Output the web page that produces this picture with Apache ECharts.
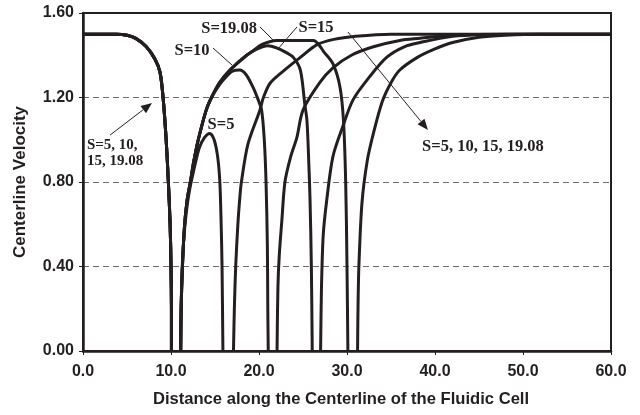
<!DOCTYPE html>
<html>
<head>
<meta charset="utf-8">
<script src="https://cdn.jsdelivr.net/npm/echarts@6/dist/echarts.min.js"></script>
<style>
html,body{margin:0;padding:0;background:#fff;}
#chart{width:640px;height:415px;}
</style>
</head>
<body>
<div id="chart"></div>
<script>
// ---- data (x = distance, y = centerline velocity) ----
var xTicks = ['0.0','10.0','20.0','30.0','40.0','50.0','60.0'];
var yTicks = ['0.00','0.40','0.80','1.20','1.60'];

// inlet part shared by all four S values
var inlet = [[0,1.50],[3.8,1.50],[5,1.495],[6,1.48],[7.2,1.44],[8.2,1.38],[8.75,1.32],[9.1,1.20],
  [9.45,1.00],[9.7,0.80],[9.9,0.60],[10.0,0.40],[10.05,0.20],[10.05,0]];

var s5First = [[11.1,0],[11.2,0.3],[11.4,0.5],[11.75,0.66],[12.1,0.76],[12.5,0.84],[13.2,0.96],
  [13.8,1.01],[14.4,1.03],[14.9,1.00],[15.3,0.92],[15.55,0.80],[15.7,0.60],[15.8,0.40],[15.9,0]];
var s5Second = [[17.1,0],[17.2,0.2],[17.35,0.4],[17.6,0.6],[17.8,0.715],[18.0,0.80],[18.75,0.98],
  [20.1,1.14],[20.5,1.20],[21.3,1.27],[23.2,1.34],[24.7,1.39],[26.6,1.45],[28.5,1.475],[31,1.49],[35,1.50],[60,1.50]];

var s10First = [[11.1,0],[11.15,0.2],[11.3,0.4],[11.55,0.6],[11.85,0.72],[12.2,0.80],[12.6,0.90],
  [13.1,1.00],[14.0,1.14],[14.6,1.20],[15.5,1.26],[16.3,1.30],[17.0,1.325],[17.8,1.33],[18.5,1.31],
  [19.3,1.25],[19.9,1.19],[20.3,1.14],[20.6,1.00],[20.8,0.80],[20.95,0.50],[21.0,0.20],[21.05,0]];
var s10Second = [[22.05,0],[22.15,0.3],[22.3,0.45],[22.6,0.62],[22.95,0.80],[23.6,0.92],[24.3,1.01],
  [25,1.14],[26.9,1.27],[28.4,1.34],[30.5,1.40],[33,1.44],[36,1.47],[38.3,1.48],[42,1.495],[48,1.50],[60,1.50]];

var s15First = [[11.1,0],[11.15,0.2],[11.3,0.4],[11.55,0.6],[11.85,0.72],[12.2,0.80],[12.6,0.90],
  [13.1,1.00],[14.0,1.14],[14.6,1.20],[15.5,1.27],[16.7,1.33],[18.6,1.40],[19.8,1.43],[21,1.445],
  [22,1.435],[23,1.415],[23.9,1.39],[24.7,1.33],[25.2,1.17],[25.45,1.09],[25.65,0.90],[25.8,0.715],
  [25.95,0.40],[26.05,0]];
var s15Second = [[27.0,0],[27.1,0.3],[27.3,0.55],[27.7,0.715],[28.4,0.92],[29.5,1.06],[30.7,1.19],
  [32.6,1.30],[34.5,1.39],[36.5,1.44],[38.3,1.46],[42,1.49],[46,1.498],[50,1.50],[60,1.50]];

var s19First = [[11.1,0],[11.15,0.2],[11.3,0.4],[11.55,0.6],[11.85,0.72],[12.2,0.80],[12.6,0.90],
  [13.1,1.00],[14.0,1.14],[14.6,1.20],[15.5,1.27],[16.7,1.33],[18.6,1.40],[19.3,1.42],[20.3,1.45],
  [21.3,1.465],[22,1.47],[26.2,1.47],[26.8,1.45],[27.3,1.42],[28.4,1.36],[29.2,1.25],[29.6,1.09],
  [29.85,0.80],[30.0,0.40],[30.1,0]];
var s19Second = [[31.2,0],[31.25,0.2],[31.35,0.4],[31.7,0.70],[32.3,0.90],[33,1.03],[34,1.18],[35,1.27],
  [36,1.33],[38,1.39],[40,1.43],[42,1.46],[45,1.485],[48,1.495],[52,1.50],[60,1.50]];

var seriesNames = ['S=5','S=10','S=15','S=19.08'];
var seriesParts = [[s5First,s5Second],[s10First,s10Second],[s15First,s15Second],[s19First,s19Second]];

// annotations in data coordinates
var labels = [
  {text:'S=19.08', at:[16.6,1.524], align:'center'},
  {text:'S=10', at:[12.39,1.42], align:'center'},
  {text:'S=15', at:[26.48,1.529], align:'center'},
  {text:'S=5', at:[15.68,1.07], align:'center'},
  {text:'S=5, 10,', at:[0.45,0.975], align:'left', small:true},
  {text:'15, 19.08', at:[0.45,0.899], align:'left', small:true},
  {text:'S=5, 10, 15, 19.08', at:[45.45,0.966], align:'center'}
];
var leaders = [
  {from:[20.11,1.534], to:[21.82,1.463], arrow:false},
  {from:[14.77,1.434], to:[16.93,1.354], arrow:false},
  {from:[24.32,1.534], to:[22.05,1.425], arrow:false},
  {from:[3.07,1.022], to:[7.84,1.174], arrow:true},
  {from:[30.11,1.51], to:[39.2,1.046], arrow:true}
];

var INK = '#231f20';

var chart = echarts.init(document.getElementById('chart'), null, {renderer:'canvas'});

var series = seriesNames.map(function(name, i){
  var first = seriesParts[i][0], second = seriesParts[i][1];
  var d = inlet.slice();
  d.push([10.6,'-']);
  d = d.concat(first);
  d.push([first[first.length-1][0] + 0.5,'-']);
  d = d.concat(second);
  return {
    name: name, type:'line', data: d, showSymbol:false, symbol:'none',
    smooth: 0.3, connectNulls:false,
    lineStyle:{color:INK, width:3}, z: 3, animation:false
  };
});

var SANS = 'Liberation Sans';
chart.setOption({
  animation:false,
  grid:{left:83, right:29, top:13, bottom:64, show:true, borderColor:INK, borderWidth:2, backgroundColor:'transparent'},
  xAxis:{
    type:'value', min:0, max:60, interval:10,
    name:'Distance along the Centerline of the Fluidic Cell', nameLocation:'middle', nameGap:40,
    nameTextStyle:{fontFamily:SANS, fontWeight:'bold', fontSize:16.6, color:INK, padding:[0,12,0,0]},
    axisLine:{show:true, onZero:false, lineStyle:{color:INK, width:2.5}},
    axisTick:{show:true, inside:false, length:4, lineStyle:{color:INK, width:1}},
    axisLabel:{margin:13, fontFamily:SANS, fontWeight:'bold', fontSize:16, color:INK,
      formatter:function(v){ return xTicks[Math.round(v/10)]; }},
    splitLine:{show:false}
  },
  yAxis:{
    type:'value', min:0, max:1.6, interval:0.4,
    name:'Centerline Velocity', nameLocation:'middle', nameGap:54,
    nameTextStyle:{fontFamily:SANS, fontWeight:'bold', fontSize:17, color:INK},
    axisLine:{show:true, onZero:false, lineStyle:{color:INK, width:2.5}},
    axisTick:{show:true, inside:false, length:4, lineStyle:{color:INK, width:1}},
    axisLabel:{margin:9, fontFamily:SANS, fontWeight:'bold', fontSize:16, color:INK,
      formatter:function(v){ return yTicks[Math.round(v/0.4)]; }},
    splitLine:{show:true, showMinLine:false, showMaxLine:false, lineStyle:{color:'#6d6d6d', width:1, type:[6,4]}}
  },
  series: series
});

// annotations
var g = [];
labels.forEach(function(l){
  var p = chart.convertToPixel({gridIndex:0}, l.at);
  g.push({type:'text', x:p[0], y:p[1], z:10, style:{
    text:l.text, fill:INK, font:'bold ' + (l.small?15:16.5) + 'px "Liberation Serif"',
    textAlign:l.align, textVerticalAlign:'middle'}});
});
leaders.forEach(function(a){
  var p0 = chart.convertToPixel({gridIndex:0}, a.from);
  var p1 = chart.convertToPixel({gridIndex:0}, a.to);
  var dx = p1[0]-p0[0], dy = p1[1]-p0[1], len = Math.sqrt(dx*dx+dy*dy);
  var ux = dx/len, uy = dy/len;
  var headL = a.arrow ? 11 : 0, headW = 4.5;
  var bx = p1[0]-ux*headL, by = p1[1]-uy*headL;
  g.push({type:'line', z:10, shape:{x1:p0[0], y1:p0[1], x2:a.arrow?bx:p1[0], y2:a.arrow?by:p1[1]},
    style:{stroke:INK, lineWidth:1}});
  if (a.arrow) {
    g.push({type:'polygon', z:10, shape:{points:[[p1[0],p1[1]],[bx-uy*headW, by+ux*headW],[bx+uy*headW, by-ux*headW]]},
      style:{fill:INK}});
  }
});
chart.setOption({graphic:g});
</script>
</body>
</html>
